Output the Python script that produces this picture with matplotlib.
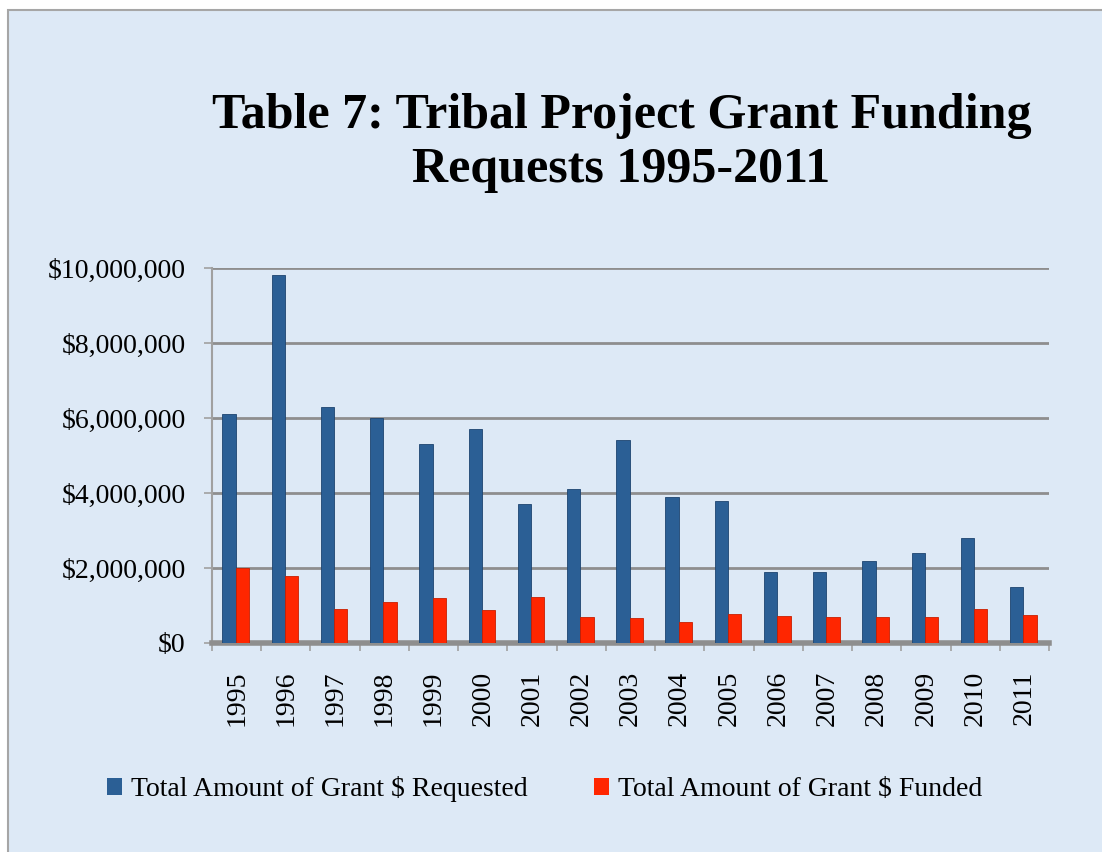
import numpy as np
import matplotlib
matplotlib.use("Agg")
import matplotlib.pyplot as plt
from matplotlib.patches import Rectangle, Patch
from matplotlib.ticker import FuncFormatter, FixedLocator

years = ['1995', '1996', '1997', '1998', '1999', '2000', '2001', '2002', '2003',
         '2004', '2005', '2006', '2007', '2008', '2009', '2010', '2011']
requested = [6.1e6, 9.8e6, 6.3e6, 6.0e6, 5.3e6, 5.7e6, 3.7e6, 4.1e6, 5.4e6,
             3.9e6, 3.8e6, 1.9e6, 1.9e6, 2.2e6, 2.4e6, 2.8e6, 1.5e6]
funded = [2.0e6, 1.8e6, 0.9e6, 1.1e6, 1.2e6, 0.88e6, 1.22e6, 0.7e6, 0.68e6,
          0.55e6, 0.78e6, 0.72e6, 0.7e6, 0.7e6, 0.69e6, 0.9e6, 0.75e6]
series_names = ['Total Amount of Grant $ Requested', 'Total Amount of Grant $ Funded']

bg = '#dde9f6'
blue = '#2b5f95'
red = '#ff2600'
grey = '#8e8e8e'
serif = ['Liberation Serif', 'DejaVu Serif']

plt.rcParams['font.family'] = serif

fig = plt.figure(figsize=(11.02, 8.52), dpi=100)
fig.patch.set_facecolor('white')
# chart area with a grey frame (left and top edges visible)
fig.patches.append(Rectangle((8 / 1102, -0.05), 1.2, 1 - 10 / 852 + 0.05,
                             transform=fig.transFigure, facecolor=bg,
                             edgecolor='#a6a6a6', lw=1.5, zorder=-5))

ax = fig.add_axes([212 / 1102, 1 - 643 / 852, (1049 - 212) / 1102, (643 - 268) / 852])
ax.set_facecolor('none')

x = np.arange(len(years))
w = 0.27
ax.bar(x - w / 2 - 0.02, requested, width=w, color=blue, edgecolor='#1d4470', lw=0.6, zorder=3)
ax.bar(x + w / 2 - 0.02, funded, width=w, color=red, edgecolor='#c81e00', lw=0.6, zorder=3)

ax.set_xlim(-0.5, len(years) - 0.5)
ax.set_ylim(0, 10e6)
ax.set_yticks(np.arange(0, 10e6 + 1, 2e6))
ax.yaxis.set_major_formatter(FuncFormatter(lambda v, p: '${:,.0f}'.format(v)))
ax.grid(axis='y', color=grey, lw=2, zorder=1)
ax.set_axisbelow(True)

ax.set_xticks(x)
ax.set_xticklabels(years, rotation=90, fontsize=20)
ax.xaxis.set_minor_locator(FixedLocator(np.arange(-0.5, len(years), 1)))
ax.tick_params(axis='x', which='major', length=0, pad=20)
ax.tick_params(axis='x', which='minor', length=6, color='#a0a0a0', width=1.2)
ax.tick_params(axis='y', length=6, color='#a0a0a0', width=1.2, labelsize=20, pad=13)

for s in ['top', 'right']:
    ax.spines[s].set_visible(False)
ax.spines['left'].set_color('#a0a0a0')
ax.spines['left'].set_linewidth(1.5)
ax.spines['bottom'].set_color(grey)
ax.spines['bottom'].set_linewidth(4)

fig.text(0.564, 1 - 143 / 852, 'Table 7: Tribal Project Grant Funding\nRequests 1995-2011',
         ha='center', va='center', fontsize=36, fontweight='bold', linespacing=1.25)

handles = [Patch(facecolor=blue), Patch(facecolor=red)]
fig.legend(handles, series_names, loc='center', bbox_to_anchor=(0.494, 1 - 789 / 852),
           ncol=2, frameon=False, fontsize=20, handlelength=0.55, handleheight=0.55,
           handletextpad=0.3, columnspacing=2.4)

fig.savefig('out.png', dpi=100, facecolor=fig.get_facecolor())
